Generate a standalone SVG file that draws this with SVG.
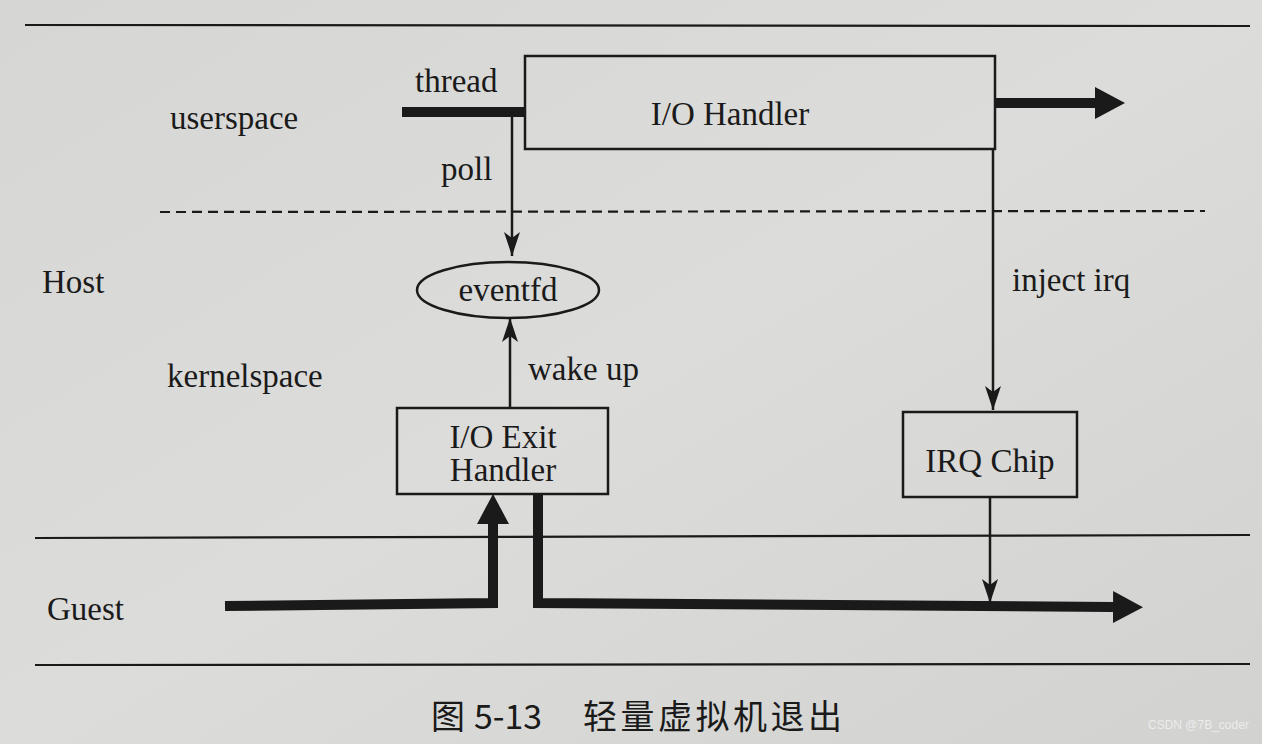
<svg xmlns="http://www.w3.org/2000/svg" width="1262" height="744" viewBox="0 0 1262 744">
  <defs>
    <linearGradient id="bg" x1="0" y1="0" x2="1" y2="1">
      <stop offset="0" stop-color="#d6d6d4"/>
      <stop offset="0.5" stop-color="#dcdcda"/>
      <stop offset="1" stop-color="#d2d2d0"/>
    </linearGradient>
    <marker id="thin" viewBox="-26 -9 28 18" refX="0" refY="0" markerWidth="28" markerHeight="18" markerUnits="userSpaceOnUse" orient="auto">
      <path d="M0,0 L-24,-8 L-18,0 L-24,8 Z" fill="#1a1a1a"/>
    </marker>
    <marker id="thick" viewBox="0 -17 32 34" refX="0" refY="0" markerWidth="32" markerHeight="34" markerUnits="userSpaceOnUse" orient="auto">
      <path d="M0,-16 L30,0 L0,16 Z" fill="#1a1a1a"/>
    </marker>
  </defs>
  <style>
    .t { font-family: "Liberation Serif", "Times New Roman", serif; font-size: 33px; fill: #1a1a1a; }
    .c { text-anchor: middle; }
    .box { fill: none; stroke: #1a1a1a; stroke-width: 2.5; }
    .rule { stroke: #1a1a1a; stroke-width: 2.2; fill: none; }
    .thinln { stroke: #1a1a1a; stroke-width: 2.5; fill: none; }
    .thickln { stroke: #1a1a1a; stroke-width: 10; fill: none; stroke-linejoin: miter; }
    .cap { font-family: "Noto Sans CJK SC", "Liberation Serif", serif; font-size: 34px; fill: #1a1a1a; }
  </style>

  <rect x="0" y="0" width="1262" height="744" fill="url(#bg)"/>

  <g id="rules">
    <line class="rule" x1="25" y1="25" x2="1250" y2="26"/>
    <line class="rule" x1="160" y1="212" x2="1205" y2="211" stroke-dasharray="10,6"/>
    <line class="rule" x1="35" y1="538" x2="1250" y2="535"/>
    <line class="rule" x1="35" y1="665" x2="1250" y2="664"/>
  </g>

  <g id="labels">
    <text class="t" x="170" y="129">userspace</text>
    <text class="t" x="42" y="293">Host</text>
    <text class="t" x="167" y="387">kernelspace</text>
    <text class="t" x="47" y="620">Guest</text>
    <text class="t" x="415" y="92">thread</text>
    <text class="t" x="441" y="180">poll</text>
    <text class="t" x="528" y="380">wake up</text>
    <text class="t" x="1012" y="291">inject irq</text>
  </g>

  <g id="io-handler">
    <rect class="box" x="525" y="56" width="470" height="93"/>
    <text class="t c" x="730" y="125">I/O Handler</text>
  </g>

  <g id="eventfd">
    <ellipse class="box" cx="508" cy="290" rx="91" ry="28"/>
    <text class="t c" x="508" y="301">eventfd</text>
  </g>

  <g id="io-exit-handler">
    <rect class="box" x="397" y="408" width="211" height="86"/>
    <text class="t c" x="503" y="448">I/O Exit</text>
    <text class="t c" x="503" y="481">Handler</text>
  </g>

  <g id="irq-chip">
    <rect class="box" x="903" y="412" width="174" height="85"/>
    <text class="t c" x="990" y="472">IRQ Chip</text>
  </g>

  <g id="connectors">
    <line class="thickln" x1="402" y1="112" x2="525" y2="112"/>
    <line class="thinln" x1="512" y1="112" x2="512" y2="256" marker-end="url(#thin)"/>
    <line class="thinln" x1="510" y1="407" x2="510" y2="318" marker-end="url(#thin)"/>
    <line class="thinln" x1="993" y1="149" x2="993" y2="410" marker-end="url(#thin)"/>
    <line class="thinln" x1="990" y1="497" x2="990" y2="603" marker-end="url(#thin)"/>
    <line class="thickln" x1="995" y1="103" x2="1095" y2="103" marker-end="url(#thick)"/>
    <polyline class="thickln" points="225,606 493,603 493,524" marker-end="url(#thick)"/>
    <polyline class="thickln" points="538,494 538,603 1113,607" marker-end="url(#thick)"/>
  </g>

  <g id="caption">
    <text class="cap" x="431" y="729">图</text>
    <text class="cap" x="474" y="729" textLength="68" lengthAdjust="spacingAndGlyphs">5-13</text>
    <text class="cap" x="583" y="729" textLength="259" lengthAdjust="spacing">轻量虚拟机退出</text>
    <text x="1148" y="729" font-family="Liberation Sans, Arial, sans-serif" font-size="12" fill="#f2f2f2" fill-opacity="0.85">CSDN @7B_coder</text>
  </g>
</svg>
